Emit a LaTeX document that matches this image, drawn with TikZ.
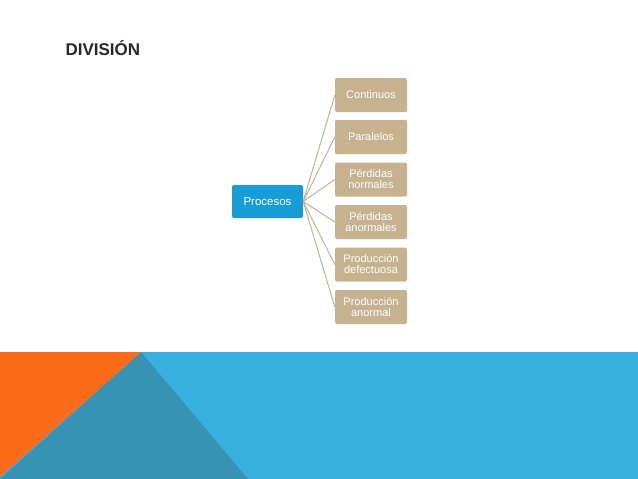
\documentclass[tikz,border=0pt]{standalone}
\usepackage{fontspec}
\setmainfont{Liberation Sans}
\definecolor{tan}{RGB}{198,178,142}
\definecolor{pblue}{RGB}{22,156,214}
\definecolor{lblue}{RGB}{56,176,222}
\definecolor{dteal}{RGB}{56,146,180}
\definecolor{orng}{RGB}{250,108,26}
\definecolor{ttl}{RGB}{40,40,40}
\begin{document}
\begin{tikzpicture}[x=1pt,y=-1pt,
  kid/.style={fill=tan,rounded corners=2pt,minimum width=72pt,minimum height=34pt,text=white,font=\fontsize{11}{11}\selectfont,align=center,inner sep=0pt},
  par/.style={fill=pblue,rounded corners=2pt,minimum width=71pt,minimum height=33pt,text=white,font=\fontsize{11.5}{12}\selectfont,inner sep=0pt},
  link/.style={draw=tan,line width=1pt}]
\useasboundingbox (0,0) rectangle (638,479);
\fill[white] (0,0) rectangle (638,479);
\fill[lblue] (0,352) rectangle (638,479);
\fill[dteal] (141,352) -- (248,479) -- (0,479) -- cycle;
\fill[orng] (0,352) -- (141,352) -- (0,477) -- cycle;
\node[anchor=west,text=ttl,font=\fontsize{17}{17}\bfseries\selectfont] (t) at (62,48) {DIVISIÓN};
\node[par] (p) at (267.5,201.5) {Procesos};
\node[kid] (c1) at (371,95) {Continuos};
\node[kid] (c2) at (371,137) {Paralelos};
\node[kid] (c3) at (371,179.5) {Pérdidas\\normales};
\node[kid] (c4) at (371,222) {Pérdidas\\anormales};
\node[kid] (c5) at (371,264.5) {Producción\\defectuosa};
\node[kid] (c6) at (371,307) {Producción\\anormal};
\foreach \c in {c1,c2,c3,c4,c5,c6}{\draw[link] (p.east) -- (\c.west);}
\end{tikzpicture}
\end{document}
